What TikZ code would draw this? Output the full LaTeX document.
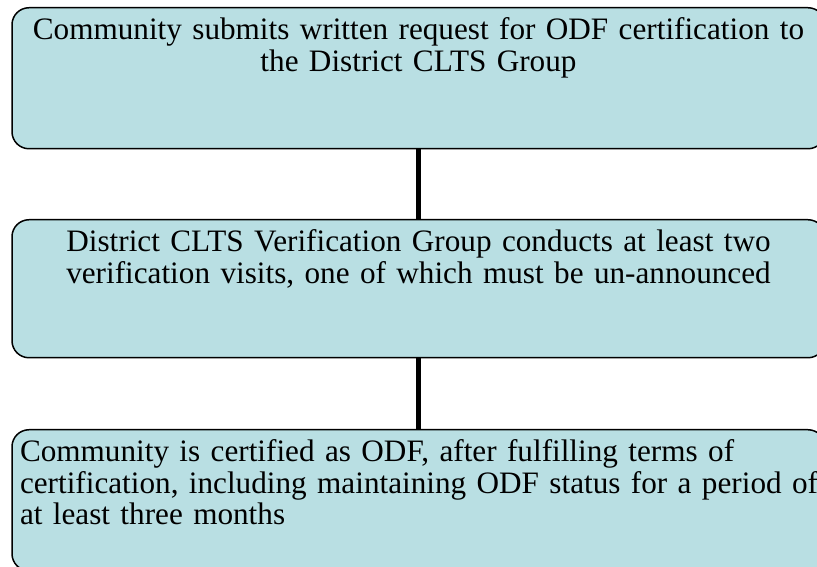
\documentclass[tikz,border=0pt]{standalone}
\usepackage{fontspec}
\setmainfont{Liberation Serif}
\usepackage{tikz}
\usetikzlibrary{positioning}

\definecolor{stepfill}{HTML}{B9DFE3}
\tikzset{
    stepbox/.style = {draw = black, line width = 1.5pt, fill = stepfill,
        rounded corners = 17pt, inner xsep = 8pt, inner ysep = 0pt,
        text width = 797pt, text height = 32pt,
        font = \fontsize{31.2}{31.5}\selectfont},
    link/.style = {line width = 5pt}
}

\begin{document}
\begin{tikzpicture}[x = 1pt, y = 1pt]
        \useasboundingbox (0, 0) rectangle (817, 567);
        \clip (0, 0) rectangle (817, 567);
        \node [stepbox, align = center, text depth = 109pt, anchor = north] (request) at (418.5, 560)
            {Community submits written request for ODF certification to\\ the District CLTS Group};
        \node [stepbox, align = center, text depth = 106pt, anchor = north] (verify) at (418.5, 348)
            {District CLTS Verification Group conducts at least two\\ verification visits, one of which must be un-announced};
        \node [stepbox, align = left, text depth = 109pt, anchor = north] (certify) at (418.5, 138)
            {Community is certified as ODF, after fulfilling terms of\\ \mbox{certification, including maintaining ODF status for a period of}\\ at least three months};
        \draw [link] (request) -- (verify);
        \draw [link] (verify) -- (certify);
    \end{tikzpicture}
\end{document}
